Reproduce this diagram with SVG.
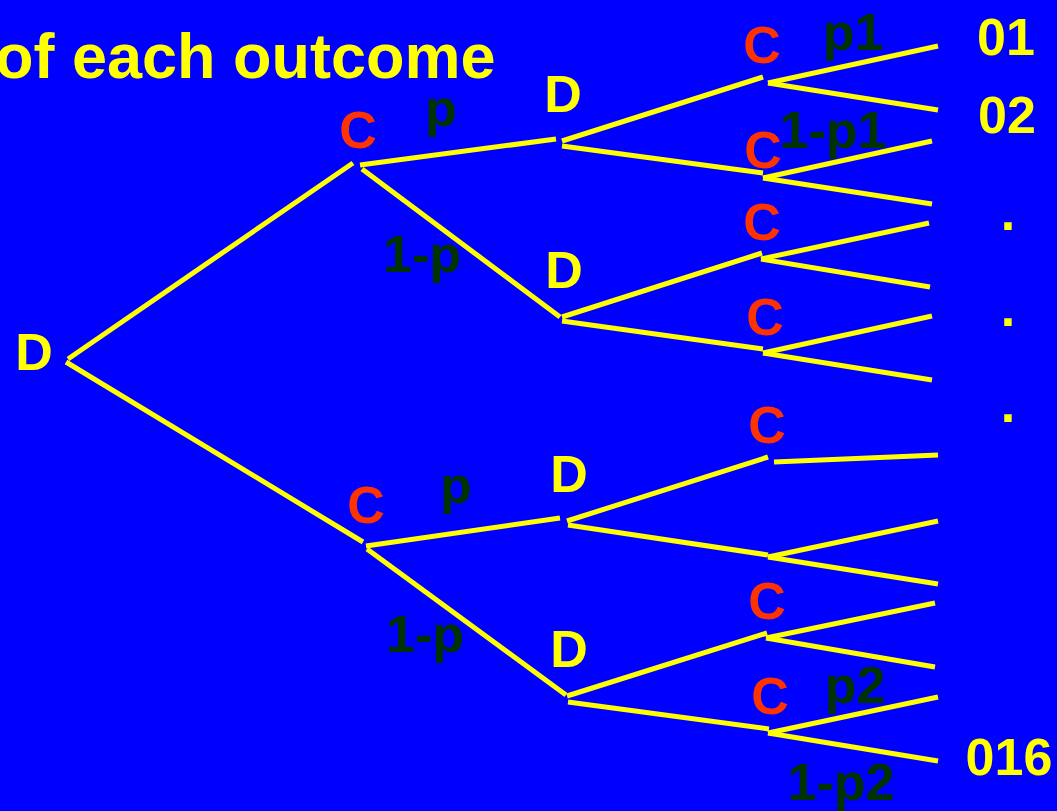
<svg xmlns="http://www.w3.org/2000/svg" width="1057" height="811" viewBox="0 0 1057 811">
<style>
text{font-family:"Liberation Sans",Arial,sans-serif;font-weight:bold;font-size:52px;text-anchor:middle}
.d{fill:#FFFF00}
.c{fill:#FF3300}
.p{fill:#003300}
.o{fill:#FFFF00}
#edges line{stroke:#FFFF00;stroke-width:5;stroke-linecap:butt}
</style>
<rect width="1057" height="811" fill="#0000FF"/>
<text x="-5" y="78" class="d" style="font-size:63px;text-anchor:start">of each outcome</text>
<g id="edges">
<line x1="68" y1="359" x2="353" y2="163"/>
<line x1="66" y1="362" x2="363" y2="542"/>
<line x1="360" y1="165" x2="556" y2="139"/>
<line x1="362" y1="169" x2="560" y2="317"/>
<line x1="562" y1="141" x2="763" y2="77"/>
<line x1="562" y1="146" x2="763" y2="173"/>
<line x1="562" y1="317" x2="762" y2="253"/>
<line x1="562" y1="321" x2="763" y2="349"/>
<line x1="768" y1="83" x2="938" y2="46"/>
<line x1="768" y1="83" x2="938" y2="110"/>
<line x1="763" y1="178" x2="932" y2="141"/>
<line x1="763" y1="178" x2="932" y2="204"/>
<line x1="761" y1="259" x2="929" y2="223"/>
<line x1="761" y1="259" x2="930" y2="287"/>
<line x1="763" y1="353" x2="932" y2="316"/>
<line x1="763" y1="353" x2="932" y2="380"/>
<line x1="366" y1="546" x2="560" y2="518"/>
<line x1="367" y1="549" x2="566" y2="695"/>
<line x1="567" y1="521" x2="768" y2="457"/>
<line x1="568" y1="525" x2="768" y2="555"/>
<line x1="567" y1="696" x2="767" y2="633"/>
<line x1="568" y1="702" x2="769" y2="729"/>
<line x1="774" y1="462" x2="938" y2="455"/>
<line x1="768" y1="557" x2="938" y2="521"/>
<line x1="768" y1="557" x2="938" y2="584"/>
<line x1="766" y1="638" x2="935" y2="603"/>
<line x1="766" y1="638" x2="935" y2="667"/>
<line x1="768" y1="733" x2="938" y2="697"/>
<line x1="768" y1="733" x2="938" y2="761"/>
</g>
<g id="edge-labels">
<text class="p" x="441" y="126">p</text>
<text class="p" x="422" y="272">1-p</text>
<text class="p" x="456" y="503">p</text>
<text class="p" x="425" y="652">1-p</text>
<text class="p" x="853" y="50">p1</text>
<text class="p" x="833" y="148">1-p1</text>
<text class="p" x="855" y="703">p2</text>
<text class="p" x="841" y="800">1-p2</text>
</g>
<g id="node-root"><text class="d" x="34" y="370">D</text></g>
<g id="node-c-top"><text class="c" x="358" y="148">C</text></g>
<g id="node-c-bottom"><text class="c" x="366" y="523">C</text></g>
<g id="node-d1"><text class="d" x="563" y="112">D</text></g>
<g id="node-d2"><text class="d" x="564" y="288">D</text></g>
<g id="node-d3"><text class="d" x="569" y="492">D</text></g>
<g id="node-d4"><text class="d" x="569" y="667">D</text></g>
<g id="node-c1"><text class="c" x="762" y="63">C</text></g>
<g id="node-c2"><text class="c" x="763" y="168">C</text></g>
<g id="node-c3"><text class="c" x="762" y="240">C</text></g>
<g id="node-c4"><text class="c" x="765" y="335">C</text></g>
<g id="node-c5"><text class="c" x="767" y="443">C</text></g>
<g id="node-c7"><text class="c" x="767" y="619">C</text></g>
<g id="node-c8"><text class="c" x="770" y="714">C</text></g>
<g id="outcome-01"><text class="o" x="1006" y="55">01</text></g>
<g id="outcome-02"><text class="o" x="1007" y="133">02</text></g>
<g id="outcome-dot1"><text class="o" x="1008" y="230">.</text></g>
<g id="outcome-dot2"><text class="o" x="1008" y="326">.</text></g>
<g id="outcome-dot3"><text class="o" x="1008" y="422">.</text></g>
<g id="outcome-016"><text class="o" x="1009" y="775">016</text></g>
</svg>
